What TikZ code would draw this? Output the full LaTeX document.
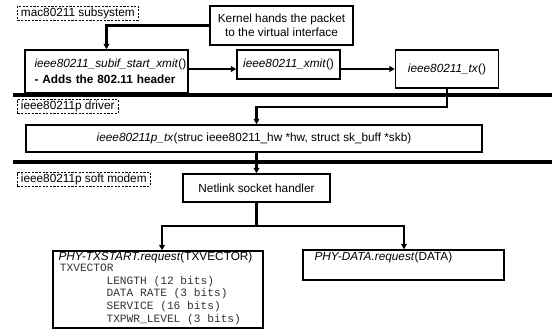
\documentclass[tikz,border=0pt]{standalone}
\usepackage{fontspec}
\setmainfont{Liberation Sans}
\newfontfamily\monof{Liberation Mono}
\usetikzlibrary{arrows.meta}
\newcommand\dfont{\fontsize{8.85}{10.2}\selectfont}
\newcommand\mfont{\monof\fontsize{8.4}{9.5}\selectfont}
\begin{document}
\begin{tikzpicture}[x=0.75pt,y=-0.75pt,
  box/.style={draw,line width=1.1pt,inner sep=0pt,font=\dfont},
  tagbox/.style={draw,line width=0.7pt,dash pattern=on 1.6pt off 1.1pt,inner xsep=2.6pt,inner ysep=0pt,minimum height=10.5pt,font=\dfont,anchor=west},
  conn/.style={line width=1.6pt},
  arr/.style={conn,-{Triangle[length=4pt,width=4.2pt]}},
  sepline/.style={line width=3pt}]
\useasboundingbox (0,0) rectangle (552,333);
\fill[white] (0,0) rectangle (552,333);

\node[tagbox] (tmac) at (17,13) {mac80211 subsystem};
\node[tagbox] (tdrv) at (17,106.5) {ieee80211p driver};
\node[tagbox] (tsm) at (17,179) {ieee80211p soft modem};

\node[box,minimum width=107.25pt,minimum height=29.25pt,align=center] (kernel) at (281.5,25.5) {Kernel hands the packet\\to the virtual interface};
\node[box,minimum width=122.25pt,minimum height=32.25pt,text width=108pt,align=left] (subif) at (106.5,71.5) {\textit{ieee80211\_subif\_start\_xmit}()\\[2pt]\textbf{- Adds the 802.11 header}};
\node[box,minimum width=77.25pt,minimum height=21.75pt] (xmit) at (288.5,64.5) {\textit{ieee80211\_xmit}()};
\node[box,minimum width=77.25pt,minimum height=28.5pt] (tx) at (447,69) {\textit{ieee80211\_tx}()};
\node[box,minimum width=342pt,minimum height=20.25pt] (ptx) at (254,138.5) {\textit{ieee80211p\_tx}(struc ieee80211\_hw *hw, struct sk\_buff *skb)};
\node[box,minimum width=110.25pt,minimum height=21pt] (nl) at (256.5,188) {Netlink socket handler};
\node[box,minimum width=157.5pt,minimum height=57.75pt] (txs) at (158,289.5) {};
\node[box,minimum width=150.75pt,minimum height=22.5pt] (data) at (403.5,265) {};
\node[anchor=north west,inner sep=0pt,font=\dfont] (txst) at ([xshift=4.5pt,yshift=-0.8pt]txs.north west) {\textit{PHY-TXSTART.request}(TXVECTOR)};
\node[anchor=north west,inner sep=0pt,font=\mfont,align=left,text=black!80] (txv) at ([xshift=5.5pt,yshift=-10pt]txs.north west) {TXVECTOR\\\hspace*{35pt}LENGTH (12 bits)\\\hspace*{35pt}DATA RATE (3 bits)\\\hspace*{35pt}SERVICE (16 bits)\\\hspace*{35pt}TXPWR\_LEVEL (3 bits)};
\node[anchor=north west,inner sep=0pt,font=\dfont] (datat) at ([xshift=9pt,yshift=-2pt]data.north west) {\textit{PHY-DATA.request}(DATA)};

\draw[arr] (kernel.west) -| (subif.north);
\draw[arr] (subif.east |- 0,69) -- (xmit.west |- 0,69);
\draw[arr] (xmit.east |- tx.west) -- (tx.west);
\draw[sepline] (13,95) -- (552,95);
\draw[sepline] (13,162) -- (552,162);
\draw[arr] (tx.south) |- (nl.north |- 0,107) -- (nl.north |- ptx.north);
\draw[arr] (ptx.south -| nl.north) -- (nl.north);
\coordinate (split) at (nl.south |- 0,226);
\draw[conn] (nl.south) -- (split);
\draw[arr] (split) -| (txs.north -| 162,0);
\draw[arr] (split) -| (data.north -| 404,0);
\end{tikzpicture}
\end{document}
